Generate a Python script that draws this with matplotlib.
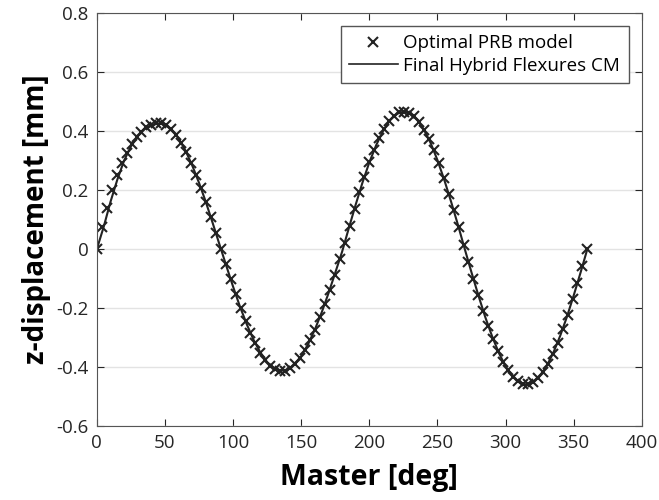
import numpy as np
import matplotlib
matplotlib.use("Agg")
import matplotlib.pyplot as plt

plt.rcParams['font.family'] = ['Open Sans', 'DejaVu Sans']

# optimal PRB model: 100 samples over one master revolution
prb_deg = np.linspace(0, 360, 100)
prb_z = [0.0, 0.075, 0.14, 0.20, 0.25, 0.29, 0.325, 0.355, 0.38, 0.398,
         0.412, 0.421, 0.426, 0.426, 0.420, 0.406, 0.387, 0.361, 0.329, 0.293,
         0.252, 0.207, 0.159, 0.108, 0.055, 0.0, -0.051, -0.103, -0.153, -0.200,
         -0.245, -0.285, -0.320, -0.351, -0.376, -0.395, -0.407, -0.413, -0.412, -0.404,
         -0.390, -0.369, -0.342, -0.310, -0.273, -0.231, -0.186, -0.138, -0.087, -0.035,
         0.020, 0.079, 0.137, 0.193, 0.245, 0.294, 0.337, 0.376, 0.408, 0.433,
         0.452, 0.463, 0.466, 0.462, 0.450, 0.431, 0.405, 0.373, 0.334, 0.290,
         0.241, 0.188, 0.132, 0.075, 0.015, -0.044, -0.101, -0.157, -0.210, -0.260,
         -0.306, -0.347, -0.382, -0.411, -0.434, -0.449, -0.458, -0.459, -0.452, -0.438,
         -0.418, -0.390, -0.356, -0.317, -0.272, -0.223, -0.170, -0.115, -0.058, 0.0]

# final hybrid flexures compliant mechanism, every 5 deg
cm_deg = np.arange(0, 361, 5)
cm_z = [0.0, 0.075, 0.16, 0.235, 0.30, 0.348, 0.383, 0.406, 0.419, 0.426,
        0.422, 0.404, 0.375, 0.334, 0.283, 0.224, 0.159, 0.088, 0.015, -0.057,
        -0.128, -0.195, -0.255, -0.308, -0.351, -0.384, -0.404, -0.413, -0.409, -0.392,
        -0.363, -0.323, -0.273, -0.215, -0.150, -0.080, -0.009, 0.072, 0.151, 0.226,
        0.294, 0.352, 0.400, 0.436, 0.458, 0.466, 0.460, 0.439, 0.405, 0.359,
        0.301, 0.234, 0.160, 0.082, 0.0, -0.080, -0.157, -0.230, -0.295, -0.352,
        -0.398, -0.431, -0.452, -0.459, -0.452, -0.431, -0.398, -0.352, -0.295, -0.230,
        -0.157, -0.080, 0.0]

fig = plt.figure(figsize=(6.59, 5), dpi=100)
ax = fig.add_axes([0.147, 0.148, 0.827, 0.826])

ax.plot(prb_deg, prb_z, linestyle='none', marker='x', markersize=7,
        markeredgewidth=1.5, color='#222222', label='Optimal PRB model')
ax.plot(cm_deg, cm_z, '-', color='#222222', linewidth=1.5,
        label='Final Hybrid Flexures CM')

ax.set_xlim(0, 400)
ax.set_ylim(-0.6, 0.8)
ax.set_xticks(np.arange(0, 401, 50))
ax.set_yticks(np.round(np.arange(-0.6, 0.81, 0.2), 1))
ax.set_yticklabels(['-0.6', '-0.4', '-0.2', '0', '0.2', '0.4', '0.6', '0.8'])
ax.yaxis.grid(True, color='#e3e3e3', linewidth=1)
ax.set_axisbelow(True)
ax.tick_params(direction='in', top=True, right=True, labelsize=13.5,
               colors='#262626', length=5, pad=6)
for s in ax.spines.values():
    s.set_color('#555555')

ax.set_xlabel('Master [deg]', fontsize=20.5, fontweight='bold', labelpad=8)
ax.set_ylabel('z-displacement [mm]', fontsize=20, fontweight='bold', labelpad=4)

leg = ax.legend(loc='upper right', bbox_to_anchor=(0.976, 0.969), borderaxespad=0,
                fontsize=13.5, fancybox=False, framealpha=1, edgecolor='#555555',
                handlelength=2.6, handletextpad=0.3, borderpad=0.45,
                labelspacing=0.25)
leg.get_frame().set_linewidth(1)
leg.get_lines()[1].set_linewidth(1.2)

fig.savefig('out.png', dpi=100)
